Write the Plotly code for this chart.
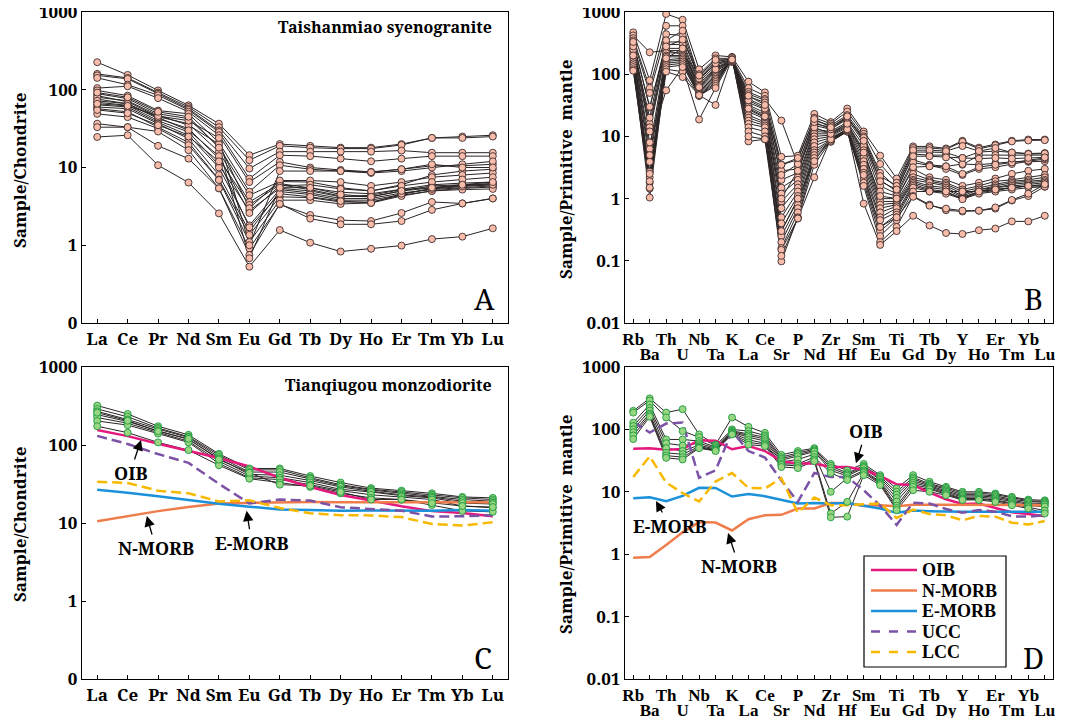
import plotly.graph_objects as go

# ---------------- categories ----------------
REE = ["La", "Ce", "Pr", "Nd", "Sm", "Eu", "Gd", "Tb", "Dy", "Ho", "Er", "Tm", "Yb", "Lu"]
SPIDER = ["Rb", "Ba", "Th", "U", "Nb", "Ta", "K", "La", "Ce", "Sr", "P", "Nd", "Zr",
          "Hf", "Sm", "Eu", "Ti", "Gd", "Tb", "Dy", "Y", "Ho", "Er", "Tm", "Yb", "Lu"]

# ---------------- A: Taishanmiao syenogranite, chondrite-normalised REE ----------------
taishanmiao_ree = [
    [226, 155, 98, 63, 36.6, 14.4, 20, 19, 18, 18, 20, 24, 25, 26],
    [160, 142, 92, 60, 33, 12.4, 19, 18, 17.5, 17.5, 19.5, 24, 24, 25],
    [153, 138, 89, 57, 30, 9.7, 16, 16, 16, 16, 16.5, 15.5, 15.5, 15.5],
    [142, 116, 85, 55, 28.6, 7.2, 14.4, 14, 13, 12, 13, 14, 14, 14],
    [105, 111, 78, 52, 26, 6.5, 11.8, 10, 9.3, 8.8, 9.5, 10.5, 10.5, 11],
    [98, 84, 54, 49, 21, 4.9, 10.7, 9.5, 9, 8.5, 9, 10, 11, 12],
    [89, 77, 49, 42.5, 18.4, 4.4, 6.6, 6.5, 5.5, 5, 6, 8, 9, 9.5],
    [84, 70, 45, 36.6, 15.9, 3.6, 6.2, 5.5, 4.8, 4.6, 5.3, 6, 6.3, 6.5],
    [76, 66, 42.5, 31.7, 13, 3.3, 6, 5.2, 4.3, 4.2, 5, 5.8, 6, 6.2],
    [69, 63, 40, 28.6, 10.7, 2.8, 5.4, 5, 4.2, 4.4, 5.2, 5.6, 5.9, 6],
    [64, 60, 38, 26, 10, 1.8, 5.2, 4.7, 4, 4, 4.7, 5.2, 5.5, 5.8],
    [60, 57, 36.6, 23.5, 8, 1.5, 4.9, 4.5, 3.8, 3.8, 4.5, 5.4, 5.8, 6.2],
    [57, 52, 33, 21, 7, 1.36, 4.2, 4.1, 3.6, 3.6, 4.4, 5, 5.4, 5.6],
    [49, 44.5, 31.7, 19.4, 6.9, 1.1, 3.8, 3.8, 3.4, 3.5, 4.3, 5, 5.2, 5.3],
    [36.6, 33, 19, 13, 5.4, 0.91, 3.35, 2.45, 2.1, 2.05, 2.6, 3.6, 3.45, 4.0],
    [33, 33, 29, 16.7, 5.4, 0.75, 3.4, 2.2, 1.86, 1.86, 2.05, 2.85, 3.45, 4.0],
    [24.7, 26, 10.7, 6.4, 2.57, 0.53, 1.57, 1.08, 0.83, 0.9, 0.99, 1.2, 1.29, 1.65],
    [80, 72, 47, 35, 20, 3.0, 6.8, 6.8, 6.5, 5.8, 6.5, 7.5, 8, 8.5],
    [72, 66, 44, 30, 14, 2.6, 5.8, 6, 5.3, 5, 5.8, 6.5, 7, 7.5],
    [55, 50, 35, 25, 12, 1.7, 4.6, 4.2, 3.7, 3.5, 4.6, 5.3, 5.7, 6.0],
    [66, 62, 46, 40, 24, 1.0, 9, 9, 9, 8.7, 9.5, 11, 10, 10],
    [92, 80, 52, 45, 18, 0.68, 5.5, 5.5, 4.5, 4.2, 5, 5.5, 6, 6.5],
]

# ---------------- B: Taishanmiao syenogranite, primitive-mantle-normalised ----------------
taishanmiao_spider = [
    [470, 80, 930, 750, 120, 200, 190, 76, 51, 4.7, 4.9, 23, 17, 28, 12, 4.9, 2.1, 6.9, 6.9, 6.4, 8.5, 6.6, 7.4, 8.5, 8.9, 8.9],
    [420, 225, 240, 210, 100, 180, 180, 60, 45, 3.5, 4.2, 20, 16, 25, 11, 3.6, 1.8, 6.5, 6.5, 6.2, 8.2, 6.3, 7.2, 8.3, 8.6, 8.7],
    [380, 60, 600, 600, 90, 160, 175, 52, 40, 18, 3.5, 18, 15, 22, 10, 2.6, 1.5, 5.6, 5.6, 5.5, 4.5, 5.6, 5.8, 5.5, 5.3, 5.4],
    [350, 50, 440, 420, 80, 150, 170, 48, 38, 2.8, 3.0, 16, 14, 20, 9, 2.0, 1.3, 5.2, 5.0, 5.0, 3.5, 5.0, 5.0, 5.0, 5.0, 5.0],
    [320, 29, 330, 330, 75, 140, 168, 44, 35, 2.0, 2.6, 15, 13, 19, 8, 1.6, 1.2, 4.2, 3.5, 3.3, 3.6, 3.5, 3.7, 3.9, 3.9, 4.0],
    [300, 16, 300, 300, 70, 130, 165, 40, 30, 1.5, 2.2, 13, 12, 17, 7, 1.3, 1.1, 3.8, 3.4, 3.0, 2.4, 3.0, 3.2, 3.6, 4.0, 4.3],
    [280, 14, 260, 260, 65, 125, 162, 35, 27, 1.2, 2.0, 12, 11.5, 16, 6, 1.0, 1.0, 3.0, 2.2, 2.0, 1.6, 1.8, 2.1, 2.5, 2.8, 3.0],
    [260, 12, 240, 240, 60, 115, 160, 32, 24, 0.9, 1.7, 11, 11, 15, 5.2, 0.9, 0.9, 2.5, 2.0, 1.8, 1.4, 1.6, 1.9, 2.0, 2.2, 2.4],
    [240, 6.3, 220, 220, 58, 110, 158, 30, 22, 0.7, 1.5, 10, 10.5, 14.5, 4.6, 0.8, 0.85, 2.2, 1.9, 1.7, 1.3, 1.5, 1.7, 1.9, 2.0, 2.2],
    [220, 3.9, 200, 200, 55, 100, 160, 27, 20, 0.5, 1.3, 9, 10, 14, 4.0, 0.7, 0.8, 2.0, 1.8, 1.6, 1.2, 1.4, 1.6, 1.8, 1.9, 2.0],
    [200, 2.7, 190, 190, 52, 95, 165, 25, 19, 0.4, 1.1, 8, 9.5, 13, 3.5, 0.6, 0.75, 1.9, 1.6, 1.5, 1.1, 1.4, 1.5, 1.7, 1.8, 1.9],
    [180, 2.2, 170, 180, 50, 90, 170, 22, 17, 0.3, 0.95, 7, 9, 13, 3.0, 0.5, 0.7, 1.8, 1.5, 1.4, 1.05, 1.3, 1.5, 1.6, 1.7, 1.8],
    [160, 1.8, 160, 170, 48, 85, 172, 20, 16, 0.25, 0.8, 6, 8.8, 12.5, 2.6, 0.45, 0.6, 1.7, 1.4, 1.3, 1.0, 1.3, 1.4, 1.5, 1.6, 1.7],
    [150, 1.45, 150, 160, 46, 80, 175, 18, 15, 0.2, 0.7, 5.5, 8.5, 12, 2.2, 0.35, 0.55, 1.6, 1.35, 1.25, 1.0, 1.25, 1.35, 1.5, 1.6, 1.6],
    [140, 1.04, 140, 150, 45, 75, 178, 16, 14, 0.16, 0.6, 5, 8.3, 12, 2.0, 0.3, 0.5, 1.5, 1.3, 1.2, 0.98, 1.2, 1.3, 1.4, 1.5, 1.55],
    [130, 2.5, 130, 140, 45, 70, 180, 14, 12, 0.098, 0.5, 4.5, 8.2, 12, 1.8, 0.25, 0.45, 1.3, 1.3, 1.3, 1.3, 1.3, 1.4, 1.5, 1.6, 1.6],
    [120, 1.9, 120, 110, 45, 65, 185, 12, 10, 0.15, 0.48, 3.5, 8.5, 12.5, 1.6, 0.2, 0.35, 1.1, 0.8, 0.65, 0.62, 0.64, 0.69, 0.93, 1.1, 1.56],
    [114, 1.5, 110, 90, 46, 32, 185, 8.3, 9, 0.12, 0.48, 2.2, 9, 13, 0.83, 0.18, 0.3, 0.53, 0.37, 0.28, 0.27, 0.31, 0.33, 0.43, 0.43, 0.53],
    [250, 8, 55, 130, 18.7, 60, 175, 10, 9, 0.3, 1.0, 4, 9, 13, 2.4, 0.35, 0.5, 1.07, 0.77, 0.69, 0.64, 0.64, 0.72, 0.95, 1.2, 1.7],
    [200, 5, 180, 260, 62, 120, 165, 28, 21, 1.0, 2.8, 14, 11, 16, 5.5, 1.1, 1.0, 3.2, 3.3, 3.3, 2.5, 3.2, 3.5, 3.8, 4.1, 4.5],
    [280, 20, 350, 500, 85, 150, 168, 38, 28, 2.4, 3.6, 17, 13, 20, 9.5, 2.3, 1.6, 6.0, 6.0, 5.8, 7.0, 5.8, 6.5, 5.5, 5.2, 5.3],
    [330, 30, 280, 360, 95, 170, 172, 45, 32, 3.5, 4.5, 19, 14, 21, 8.5, 1.9, 1.4, 4.8, 4.8, 4.6, 4.5, 4.4, 4.5, 4.4, 4.5, 4.6],
]

# ---------------- C: Tianqiugou monzodiorite, chondrite-normalised REE ----------------
tianqiugou_ree = [
    [320, 250, 174, 135, 77, 50, 50, 40, 33, 28, 26, 24, 21.6, 21],
    [290, 230, 165, 128, 74, 48, 48, 38, 31, 27, 25, 23, 21, 20],
    [270, 212, 160, 125, 70, 45, 45, 37, 30, 26.5, 24, 22, 20, 19],
    [245, 200, 152, 118, 67, 42, 41, 35, 29, 25.5, 23, 21.5, 19, 18.2],
    [225, 190, 145, 112, 62, 40, 38, 33, 27, 25, 22.4, 21, 18, 17.5],
    [203, 180, 140, 108, 58, 38, 36, 31, 26, 23, 21.5, 20, 16.5, 15.7],
    [174, 144, 108, 86, 55, 37, 33, 29, 24, 21, 20, 17, 14.3, 13.9],
    [260, 205, 150, 120, 65, 44, 31, 30, 25, 20, 20, 18, 16.5, 16],
]

# ---------------- D: Tianqiugou monzodiorite, primitive-mantle-normalised ----------------
tianqiugou_spider = [
    [198, 314, 186, 211, 83, 57, 155, 110, 88, 39, 45, 50, 28, 22, 28, 18.5, 11.3, 18.5, 14.5, 12, 10, 10, 9.4, 8.3, 7.5, 7.3],
    [186, 290, 155, 94, 75, 55, 100, 94, 80, 36, 42, 48, 26, 20, 26, 17.5, 10, 17, 13.5, 11.5, 9.5, 9.5, 9, 8, 7.2, 7],
    [128, 250, 69, 69, 65, 52, 95, 85, 75, 34, 40, 46, 24, 19, 25, 16.5, 9, 16, 13, 11, 9, 9, 8.6, 7.6, 7, 6.8],
    [113, 220, 60, 55, 60, 50, 92, 80, 70, 32, 37, 44, 22, 18, 24, 15.5, 8, 15, 12.5, 10.5, 8.6, 8.6, 8.2, 7.3, 6.6, 6.5],
    [100, 200, 50, 45, 56, 48, 90, 75, 65, 30, 33, 40, 10, 16.5, 22, 14.5, 7, 14, 12, 10, 8.2, 8.2, 7.8, 7, 6.3, 6.2],
    [90, 180, 42, 40, 53, 47, 88, 68, 60, 28, 28, 36, 20, 15.5, 21, 14, 6, 13, 11.5, 9.5, 7.8, 7.8, 7.4, 6.6, 6, 5.8],
    [80, 170, 38, 36, 51, 46, 85, 62, 57, 27, 26, 33, 4.5, 6.9, 20, 13.5, 5.5, 12, 11, 9.2, 7.6, 7.6, 7.2, 6.4, 5.7, 5],
    [70, 160, 35, 33, 50, 45, 83, 57, 54, 25, 24, 31, 3.9, 4.0, 18.5, 12.8, 5.1, 10.6, 10, 8.8, 7.4, 7.4, 6.9, 6.1, 5.4, 4.5],
]

# ---------------- reference compositions ----------------
REF_NAMES = ["OIB", "N-MORB", "E-MORB", "UCC", "LCC"]
oib_ree = [156, 130, 104, 84, 68, 53, 38, 29, 22.8, 19.4, 16.4, 14.2, 13.4, 12.2]
nmorb_ree = [10.5, 12.2, 14.2, 16, 17.8, 18.1, 18.5, 18.6, 18.5, 18.5, 18.6, 18.5, 18.9, 18.5]
emorb_ree = [26.6, 24.5, 22, 19.7, 17.6, 16.2, 14.9, 14.7, 14.4, 14.5, 14.4, 14.4, 14.7, 14.4]
ucc_ree = [131, 103, 76.5, 59, 31.8, 17.8, 20, 19.4, 15.9, 15.2, 14.4, 12.1, 12.2, 12.6]
lcc_ree = [33.8, 32.6, 25.9, 24, 18.9, 19.5, 15.6, 13.3, 12.6, 12.5, 11.9, 9.7, 9.3, 10.2]

oib_spider = [48.8, 50, 47, 48.6, 67, 66, 48, 54, 45, 31, 28.4, 28.4, 25, 25, 22.5, 17.9, 13.2, 12.8, 9.7, 7.6, 6.4, 6.5, 5.5, 4.7, 4.4, 4.05]
nmorb_spider = [0.88, 0.9, 1.41, 2.24, 3.27, 3.22, 2.4, 3.64, 4.2, 4.27, 5.4, 5.4, 6.6, 6.6, 5.9, 6.1, 5.85, 6.2, 6.2, 6.2, 6.15, 6.2, 6.2, 6.2, 6.2, 6.1]
emorb_spider = [7.9, 8.2, 7.06, 8.6, 11.6, 11.5, 8.4, 9.2, 8.5, 7.35, 6.5, 6.6, 6.5, 6.6, 5.9, 5.4, 4.6, 5.0, 4.9, 4.8, 4.8, 4.8, 4.8, 4.8, 4.8, 4.8]
ucc_spider = [132, 89, 124, 129, 16.8, 22, 93, 45, 35.5, 15.2, 6.9, 20, 17.2, 17.2, 10.6, 6, 2.95, 6.7, 6.5, 5.3, 4.6, 5.1, 4.8, 4.05, 4.0, 4.2]
lcc_spider = [17.3, 37, 14.1, 9.5, 7, 14.6, 20, 11.6, 11.3, 16.5, 4.6, 8.1, 6.1, 6.1, 6.3, 6.5, 3.8, 5.2, 4.4, 4.2, 3.5, 4.1, 4.0, 3.2, 3.0, 3.4]

REF_COLORS = ["#E5197D", "#EE7D4B", "#1A91DA", "#7B52A6", "#F7B800"]
REF_DASH = ["solid", "solid", "solid", "10px,5px", "10px,5px"]

# ---------------- styling ----------------
W, H = 1073, 718
OFF = 8  # the page's default body margin shifts the figure by 8 px
SERIF = "Noto Serif, Liberation Serif, serif"
TIGHT_SERIF = "Liberation Serif, Noto Serif, serif"
LINE_C = "#2b2424"
PINK_FILL, PINK_EDGE = "#F7BCAA", "#3d2b2b"
GREEN_FILL, GREEN_EDGE = "#98D682", "#1E9A40"

fig = go.Figure()


def add_samples(samples, cats, xa, ya, xa_mark, fill, edge, refs=None):
    xs = list(range(len(cats)))
    for s in samples:
        fig.add_trace(go.Scatter(x=xs, y=s, mode="lines", xaxis=xa, yaxis=ya,
                                 line=dict(color=LINE_C, width=1), showlegend=False,
                                 hoverinfo="skip"))
    if refs is not None:
        for name, vals, col, dash in refs:
            fig.add_trace(go.Scatter(x=xs, y=vals, mode="lines", xaxis=xa, yaxis=ya,
                                     name=name, line=dict(color=col, width=2.5, dash=dash),
                                     showlegend=False))
    for s in samples:
        fig.add_trace(go.Scatter(x=xs, y=s, mode="markers", xaxis=xa_mark, yaxis=ya,
                                 marker=dict(symbol="circle", size=7, color=fill,
                                             line=dict(color=edge, width=0.9)),
                                 showlegend=False, hoverinfo="skip"))


ref_ree = list(zip(REF_NAMES, [oib_ree, nmorb_ree, emorb_ree, ucc_ree, lcc_ree], REF_COLORS, REF_DASH))
ref_spider = list(zip(REF_NAMES, [oib_spider, nmorb_spider, emorb_spider, ucc_spider, lcc_spider], REF_COLORS, REF_DASH))

add_samples(taishanmiao_ree, REE, "x", "y", "x", PINK_FILL, PINK_EDGE)
add_samples(taishanmiao_spider, SPIDER, "x2", "y2", "x5", PINK_FILL, PINK_EDGE)
add_samples(tianqiugou_ree, REE, "x3", "y3", "x3", GREEN_FILL, GREEN_EDGE, ref_ree)
add_samples(tianqiugou_spider, SPIDER, "x4", "y4", "x6", GREEN_FILL, GREEN_EDGE, ref_spider)

tickfont = dict(family=SERIF, size=17, color="black", weight="bold")
sp_tickfont = dict(family=TIGHT_SERIF, size=17, color="black", weight="bold")
common_ax = dict(showline=True, mirror=True, linecolor="black", linewidth=1.3,
                 ticks="inside", ticklen=4, tickwidth=1.2, tickcolor="black",
                 showgrid=False, zeroline=False, automargin=False,
                 ticklabeloverflow="allow")

def xdom(a, b):
    return [(a - OFF) / W, (b - OFF) / W]

def ydom(top, bottom):
    return [1 - (bottom - OFF) / H, 1 - (top - OFF) / H]

def px(p):
    return (p - OFF) / W

def py(p):
    return 1 - (p - OFF) / H

even_text = [c if i % 2 == 0 else "" for i, c in enumerate(SPIDER)]
odd_vals = [i for i in range(len(SPIDER)) if i % 2 == 1]
odd_text = [SPIDER[i] for i in odd_vals]

ree_x = dict(range=[-0.5, 13.5], tickmode="array", tickvals=list(range(14)), ticktext=REE,
             tickangle=0, tickfont=tickfont, **common_ax)
sp_x = dict(range=[-0.5, 25.5], tickmode="array", tickvals=list(range(26)), ticktext=even_text,
            tickangle=0, tickfont=sp_tickfont, **common_ax)
sp_x_second = dict(range=[-0.5, 25.5], tickmode="array", tickvals=odd_vals, ticktext=odd_text,
                   tickangle=0, showline=False, ticks="", showgrid=False, zeroline=False,
                   automargin=False, ticklabeloverflow="allow",
                   tickfont=sp_tickfont, ticklabelstandoff=19, side="bottom")
ree_y = dict(type="log", range=[-1, 3], tickmode="array", tickvals=[0.1, 1, 10, 100, 1000],
             ticktext=["0", "1", "10", "100", "1000"], tickfont=tickfont, **common_ax)
sp_y = dict(type="log", range=[-2, 3], tickmode="array", tickvals=[0.01, 0.1, 1, 10, 100, 1000],
            ticktext=["0.01", "0.1", "1", "10", "100", "1000"], tickfont=tickfont, **common_ax)

fig.update_layout(
    width=W, height=H, margin=dict(l=0, r=0, t=0, b=0, autoexpand=False),
    paper_bgcolor="white", plot_bgcolor="white",
    xaxis=dict(domain=xdom(82, 508), anchor="y", **ree_x),
    yaxis=dict(domain=ydom(12, 323), anchor="x", **ree_y),
    xaxis2=dict(domain=xdom(625, 1053), anchor="y2", **sp_x),
    yaxis2=dict(domain=ydom(12, 323), anchor="x2", **sp_y),
    xaxis3=dict(domain=xdom(82, 508), anchor="y3", **ree_x),
    yaxis3=dict(domain=ydom(367, 679), anchor="x3", **ree_y),
    xaxis4=dict(domain=xdom(625, 1053), anchor="y4", **sp_x),
    yaxis4=dict(domain=ydom(367, 679), anchor="x4", **sp_y),
    xaxis5=dict(overlaying="x2", anchor="y2", **sp_x_second),
    xaxis6=dict(overlaying="x4", anchor="y4", **sp_x_second),
    showlegend=False,
)

ann = []
shapes = []

def paper_text(text, x, y, size=17, bold=True, xanchor="center", angle=0):
    ann.append(dict(text=text, x=px(x), y=py(y), xref="paper", yref="paper",
                    showarrow=False, xanchor=xanchor, yanchor="middle", textangle=angle,
                    font=dict(family=SERIF, size=size, color="black",
                              weight="bold" if bold else "normal")))

paper_text("Taishanmiao syenogranite", 494, 27, size=16, xanchor="right")
paper_text("Tianqiugou monzodiorite", 494, 385, size=16, xanchor="right")
paper_text("Sample/Chondrite", 19, 171, size=17, angle=-90)
paper_text("Sample/Chondrite", 19, 525, size=17, angle=-90)
paper_text("Sample/Primitive  mantle", 565, 170, size=17, angle=-90)
paper_text("Sample/Primitive  mantle", 565, 525, size=17, angle=-90)
paper_text("A", 484, 298, size=29, bold=False)
paper_text("B", 1033, 298, size=29, bold=False)
paper_text("C", 483, 657, size=29, bold=False)
paper_text("D", 1033, 657, size=29, bold=False)

def arrow_label(text, xa, ya, xi, ylog, ax, ay):
    ann.append(dict(text=text, x=xi, y=ylog, xref=xa, yref=ya, showarrow=True,
                    ax=ax, ay=ay, axref="pixel", ayref="pixel",
                    arrowhead=2, arrowsize=1.6, arrowwidth=1.3, arrowcolor="black",
                    font=dict(family=SERIF, size=18, color="black", weight="bold")))

arrow_label("OIB", "x3", "y3", 1.44, 2.064, -11, 33)
arrow_label("N-MORB", "x3", "y3", 1.63, 1.09, 9, 32)
arrow_label("E-MORB", "x3", "y3", 4.91, 1.158, 5, 32)
arrow_label("OIB", "x4", "y4", 13.53, 1.457, 10, -32)
arrow_label("E-MORB", "x4", "y4", 1.38, 0.853, 14, 25)
arrow_label("N-MORB", "x4", "y4", 5.76, 0.34, 11, 33)

# legend box for panel D (drawn in paper space)
LEG_L, LEG_R, LEG_T, LEG_B = 864, 1006, 556, 667
shapes.append(dict(type="rect", xref="paper", yref="paper", x0=px(LEG_L), x1=px(LEG_R),
                   y0=py(LEG_B), y1=py(LEG_T), line=dict(color="black", width=1.2),
                   fillcolor="white", layer="above"))
for k, (name, col, dash) in enumerate(zip(REF_NAMES, REF_COLORS, REF_DASH)):
    yy = py(570 + k * 20.5)
    dash_s = "solid" if dash == "solid" else "dash"
    shapes.append(dict(type="line", xref="paper", yref="paper", x0=px(871), x1=px(917),
                       y0=yy, y1=yy, line=dict(color=col, width=2.5, dash=dash_s), layer="above"))
    ann.append(dict(text=name, x=px(920), y=yy, xref="paper", yref="paper", showarrow=False,
                    xanchor="left", yanchor="middle",
                    font=dict(family=TIGHT_SERIF, size=18, color="black", weight="bold")))

fig.update_layout(annotations=ann, shapes=shapes)
fig.write_html("out.html")
